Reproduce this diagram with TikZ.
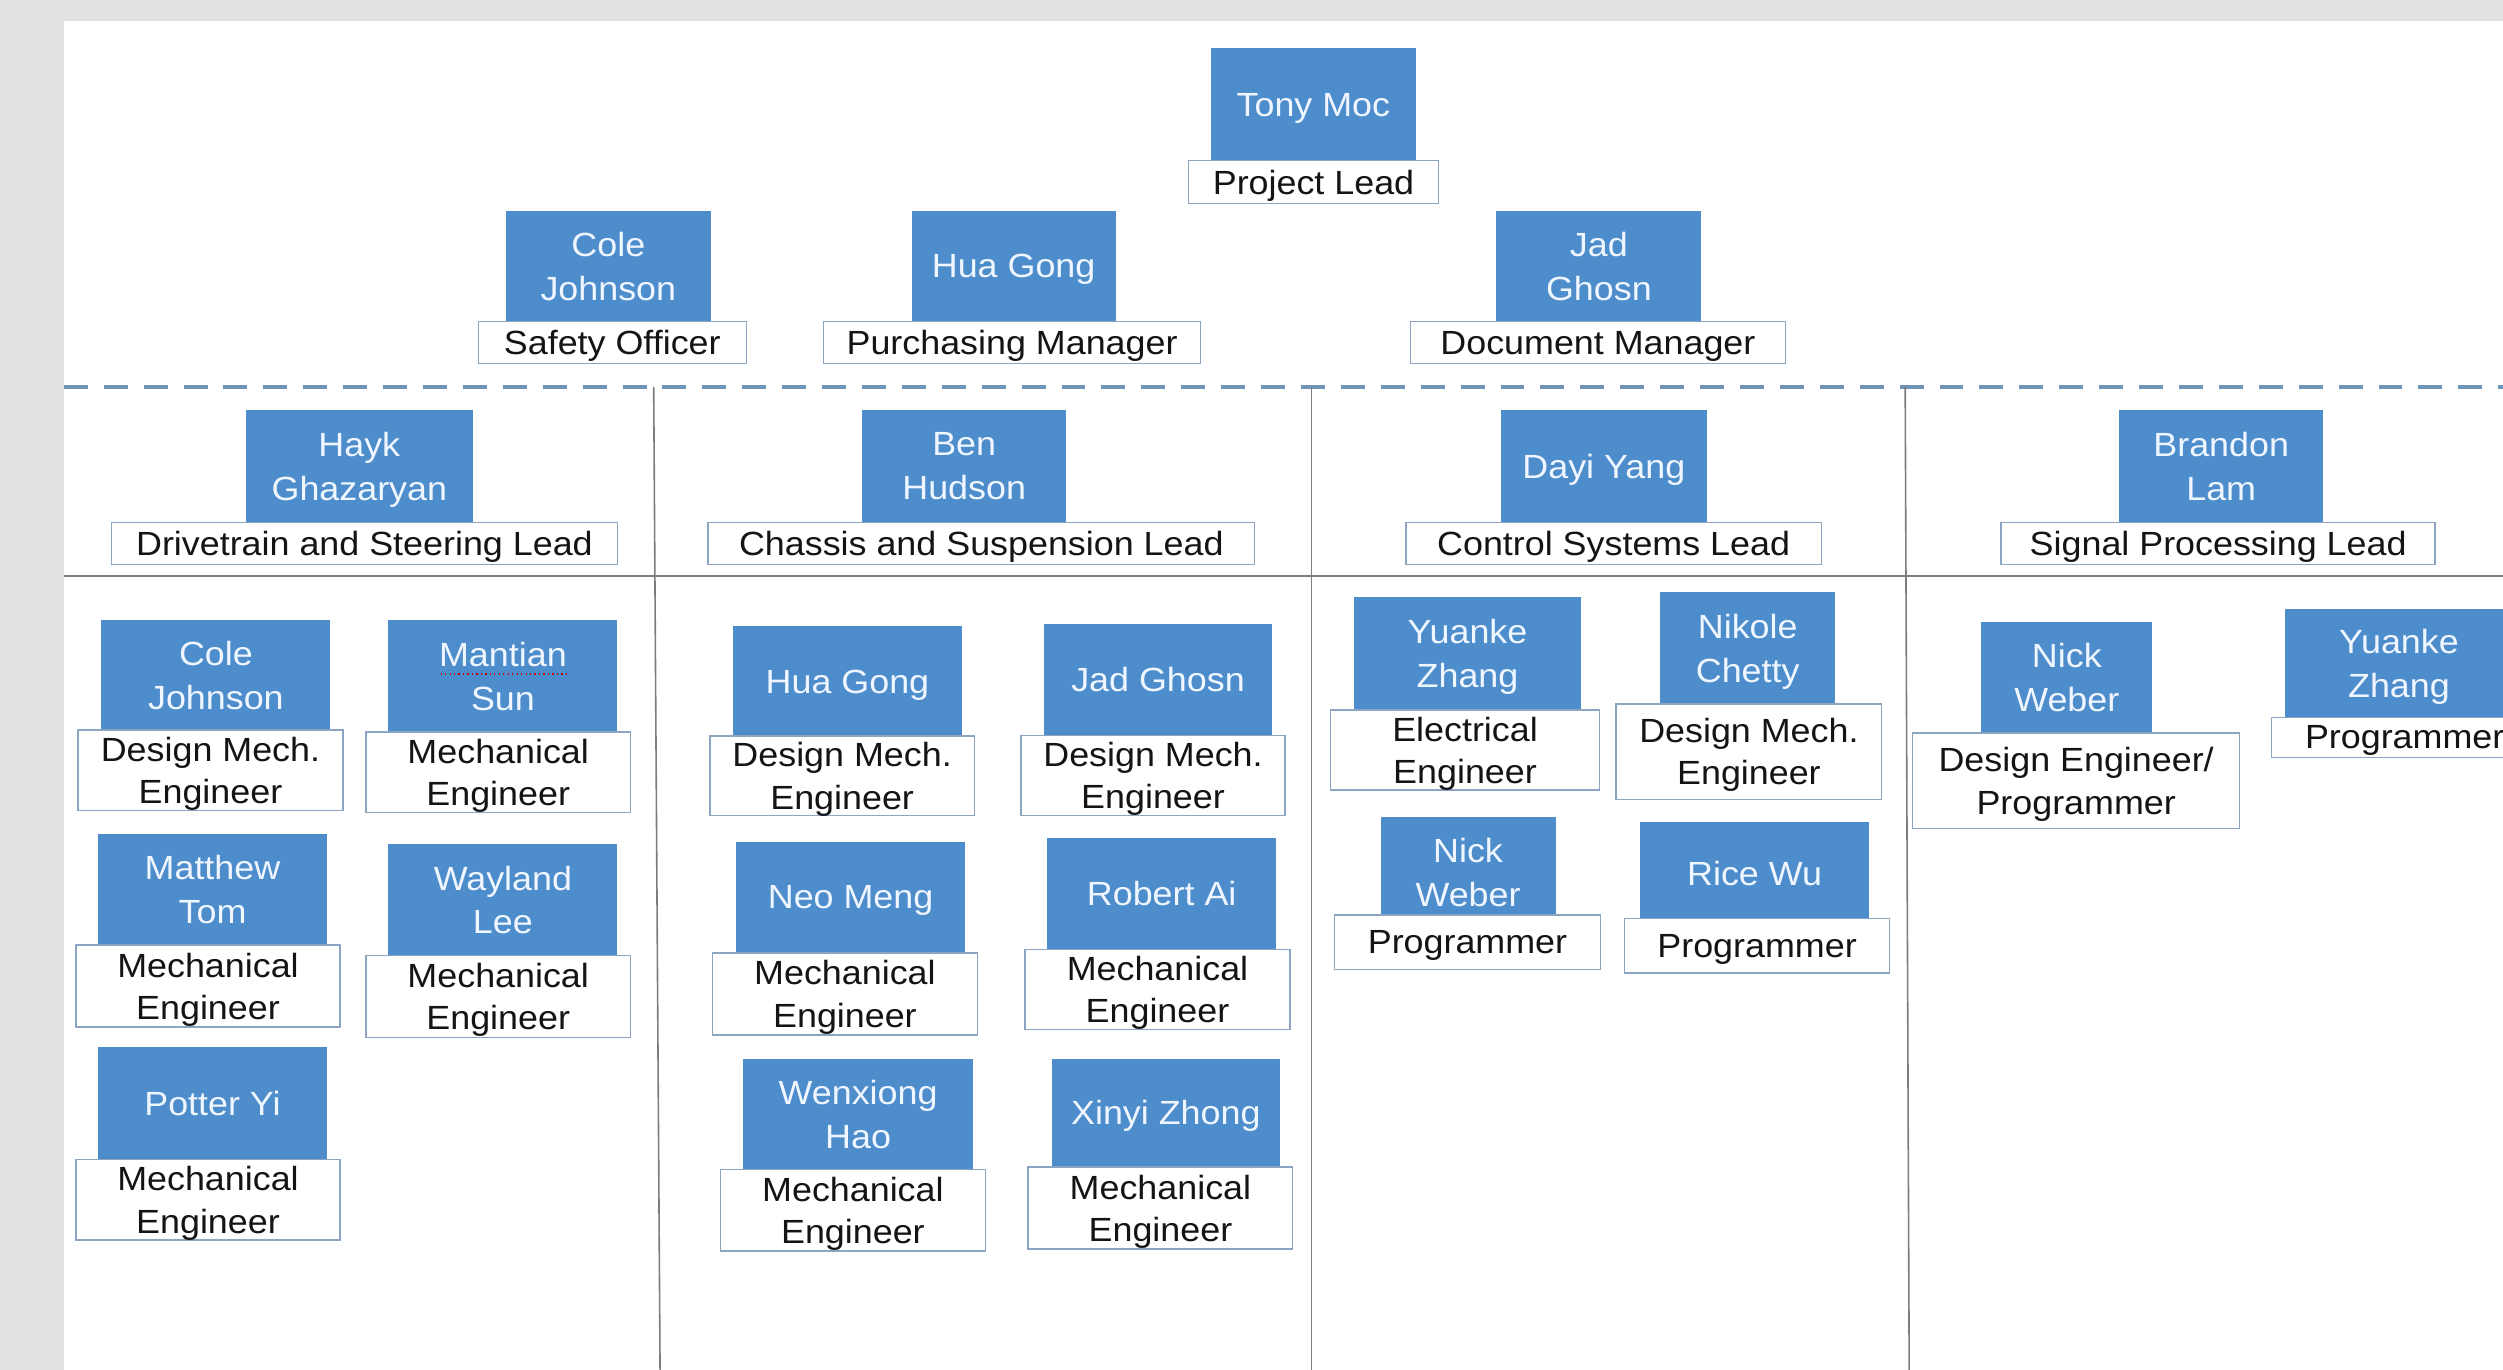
\documentclass[tikz,border=0pt]{standalone}
\usepackage{fontspec}
\setmainfont{Liberation Sans}[FakeStretch=1.07]
\definecolor{bgray}{RGB}{226,226,226}
\definecolor{nblue}{RGB}{78,141,204}
\definecolor{rborder}{RGB}{140,165,195}
\definecolor{dashc}{RGB}{112,148,184}
\definecolor{sepc}{RGB}{125,125,125}
\definecolor{ntext}{RGB}{240,246,255}
\definecolor{rtext}{RGB}{20,20,20}
\tikzset{
  namebox/.style={fill=nblue, draw=none, text=ntext, align=center, inner sep=0pt, text depth=0pt,
    font=\fontsize{21}{27.5}\selectfont},
  rolebox/.style={fill=white, draw=rborder, line width=0.9pt, text=rtext, align=center, inner sep=0pt, text depth=0pt,
    font=\fontsize{21}{26.5}\selectfont},
  sepline/.style={draw=sepc, line width=1pt},
  hsep/.style={draw=sepc, line width=1.4pt},
  dsep/.style={draw=dashc, line width=2.2pt, dash pattern=on 15pt off 10pt}
}
\begin{document}
\begin{tikzpicture}[x=1pt,y=-1pt]
\clip (0,0) rectangle (1568,858);
\fill[bgray] (0,0) rectangle (1568,858);
\fill[white] (40,13) rectangle (1580,870);

% separators
\draw[dsep] (40,242.5) -- (1570,242.5);
\draw[hsep] (40,360.8) -- (1570,360.8);
\draw[sepline] (409.5,242.5) -- (413.5,860);
\draw[sepline] (821.5,242.5) -- (821.5,860);
\draw[sepline] (1193.5,242.5) -- (1196,860);

% ---- top level
\node[namebox, minimum width=128.3pt, minimum height=70.4pt] (tonyN) at (822.75,65.5) {Tony Moc};
\node[rolebox, minimum width=156.9pt, minimum height=26.7pt] (tonyR) at (822.85,114.05) {Project Lead};

\node[namebox, minimum width=128.6pt, minimum height=69.5pt] (coleAN) at (381.1,166.65) {Cole\\Johnson};
\node[rolebox, minimum width=167.9pt, minimum height=26.4pt] (coleAR) at (383.55,214.6) {Safety Officer};

\node[namebox, minimum width=128pt, minimum height=69.5pt] (huaAN) at (635,166.65) {Hua Gong};
\node[rolebox, minimum width=236pt, minimum height=26.4pt] (huaAR) at (634,214.6) {Purchasing Manager};

\node[namebox, minimum width=128.4pt, minimum height=69.5pt] (jadAN) at (1001.6,166.65) {Jad\\Ghosn};
\node[rolebox, minimum width=234.8pt, minimum height=26.4pt] (jadAR) at (1001,214.6) {Document Manager};

% ---- leads
\node[namebox, minimum width=142.6pt, minimum height=70.3pt] (haykN) at (225.1,292.15) {Hayk\\Ghazaryan};
\node[rolebox, minimum width=316.8pt, minimum height=26.3pt] (haykR) at (228.3,340.45) {Drivetrain and Steering Lead};

\node[namebox, minimum width=128pt, minimum height=70.3pt] (benN) at (604,292.15) {Ben\\Hudson};
\node[rolebox, minimum width=342.5pt, minimum height=26.3pt] (benR) at (614.75,340.45) {Chassis and Suspension Lead};

\node[namebox, minimum width=128.8pt, minimum height=70.3pt] (dayiN) at (1004.7,292.15) {Dayi Yang};
\node[rolebox, minimum width=260.1pt, minimum height=26.3pt] (dayiR) at (1010.85,340.45) {Control Systems Lead};

\node[namebox, minimum width=127.7pt, minimum height=70.3pt] (brandonN) at (1391.45,292.15) {Brandon\\Lam};
\node[rolebox, minimum width=271.9pt, minimum height=26.3pt] (brandonR) at (1389.55,340.45) {Signal Processing Lead};

% ---- column 1
\node[namebox, minimum width=143.5pt, minimum height=68.8pt] (coleBN) at (135.25,423) {Cole\\Johnson};
\node[rolebox, minimum width=165.9pt, minimum height=50.5pt] (coleBR) at (131.85,482.65) {Design Mech.\\Engineer};

\node[namebox, minimum width=143.5pt, minimum height=70pt] (mantianN) at (315.05,423.6) {Mantian\\Sun};
\node[rolebox, minimum width=165.6pt, minimum height=50.5pt] (mantianR) at (312.1,483.85) {Mechanical\\Engineer};
\draw[red!80!black, line width=0.8pt, dotted] (276,422.3) -- (355,422.3);

\node[namebox, minimum width=143.2pt, minimum height=69.4pt] (matthewN) at (133.1,557.4) {Matthew\\Tom};
\node[rolebox, minimum width=165.6pt, minimum height=51.2pt] (matthewR) at (130.3,617.7) {Mechanical\\Engineer};

\node[namebox, minimum width=143.5pt, minimum height=69.4pt] (waylandN) at (315.05,563.7) {Wayland\\Lee};
\node[rolebox, minimum width=165.6pt, minimum height=51.5pt] (waylandR) at (312.1,624.15) {Mechanical\\Engineer};

\node[namebox, minimum width=143.2pt, minimum height=70.1pt] (potterN) at (133.1,691.25) {Potter Yi};
\node[rolebox, minimum width=165.6pt, minimum height=50.5pt] (potterR) at (130.3,751.55) {Mechanical\\Engineer};

% ---- column 2
\node[namebox, minimum width=143.8pt, minimum height=68.8pt] (huaBN) at (530.9,426.8) {Hua Gong};
\node[rolebox, minimum width=165.7pt, minimum height=49.8pt] (huaBR) at (527.55,486.1) {Design Mech.\\Engineer};

\node[namebox, minimum width=142.9pt, minimum height=69.8pt] (jadBN) at (725.45,425.7) {Jad Ghosn};
\node[rolebox, minimum width=165.6pt, minimum height=50.4pt] (jadBR) at (722.3,485.8) {Design Mech.\\Engineer};

\node[namebox, minimum width=143.7pt, minimum height=69.4pt] (neoN) at (532.85,562.2) {Neo Meng};
\node[rolebox, minimum width=166.2pt, minimum height=51.4pt] (neoR) at (529.3,622.6) {Mechanical\\Engineer};

\node[namebox, minimum width=143.3pt, minimum height=69.8pt] (robertN) at (727.75,559.8) {Robert Ai};
\node[rolebox, minimum width=166.2pt, minimum height=50.2pt] (robertR) at (725.1,619.8) {Mechanical\\Engineer};

\node[namebox, minimum width=143.7pt, minimum height=69.4pt] (wenxiongN) at (537.55,697.9) {Wenxiong\\Hao};
\node[rolebox, minimum width=166.2pt, minimum height=51.1pt] (wenxiongR) at (534.3,758.15) {Mechanical\\Engineer};

\node[namebox, minimum width=142.9pt, minimum height=67.8pt] (xinyiN) at (730.35,697.1) {Xinyi Zhong};
\node[rolebox, minimum width=165.7pt, minimum height=51.5pt] (xinyiR) at (726.95,756.75) {Mechanical\\Engineer};

% ---- column 3
\node[namebox, minimum width=142.6pt, minimum height=70.6pt] (yuankeAN) at (919.3,409.5) {Yuanke\\Zhang};
\node[rolebox, minimum width=168.3pt, minimum height=50.1pt] (yuankeAR) at (917.75,469.85) {Electrical\\Engineer};

\node[namebox, minimum width=109.3pt, minimum height=70pt] (nikoleN) at (1094.85,406) {Nikole\\Chetty};
\node[rolebox, minimum width=166.4pt, minimum height=59.7pt] (nikoleR) at (1095.6,470.85) {Design Mech.\\Engineer};

\node[namebox, minimum width=109.7pt, minimum height=61.6pt, text height=51pt] (nickAN) at (919.65,542.4) {Nick\\Weber};
\node[rolebox, minimum width=166.6pt, minimum height=34pt] (nickAR) at (919.3,590.2) {Programmer};

\node[namebox, minimum width=143.7pt, minimum height=60.6pt, text height=19pt] (riceN) at (1099.15,545) {Rice Wu};
\node[rolebox, minimum width=166pt, minimum height=34.1pt] (riceR) at (1100.7,592.35) {Programmer};

% ---- column 4
\node[namebox, minimum width=107.1pt, minimum height=69.5pt] (nickBN) at (1294.75,424.45) {Nick\\Weber};
\node[rolebox, minimum width=204.8pt, minimum height=59.8pt] (nickBR) at (1300.6,489.1) {Design Engineer/\\Programmer};

\node[namebox, minimum width=142.6pt, minimum height=68pt] (yuankeBN) at (1502.8,415.5) {Yuanke\\Zhang};
\node[rolebox, minimum width=167pt, minimum height=24.9pt] (yuankeBR) at (1506.4,461.95) {Programmer};
\end{tikzpicture}
\end{document}
